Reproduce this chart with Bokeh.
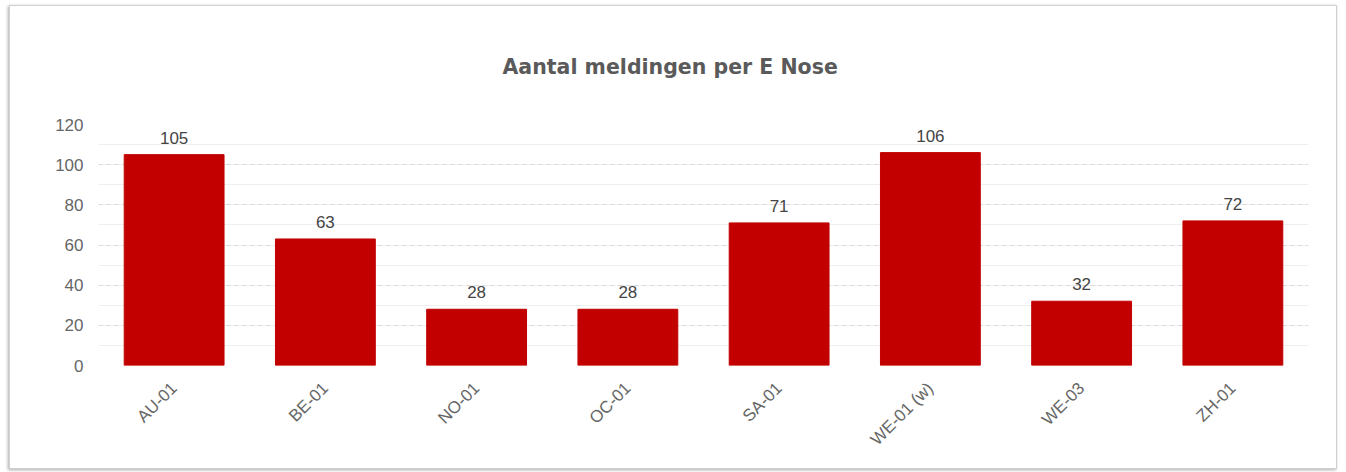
from bokeh.plotting import figure
from bokeh.models import ColumnDataSource, LabelSet, SingleIntervalTicker, Range1d, FactorRange
from bokeh.core.properties import value
from bokeh.embed import file_html
from bokeh.resources import INLINE
from math import pi

categories = ["AU-01", "BE-01", "NO-01", "OC-01", "SA-01", "WE-01 (w)", "WE-03", "ZH-01"]
values = [105, 63, 28, 28, 71, 106, 32, 72]
title_text = "Aantal meldingen per E Nose"

src = ColumnDataSource(dict(cat=categories, val=values, lbl=[str(v) for v in values]))

p = figure(x_range=FactorRange(*categories), y_range=Range1d(0, 120),
           width=1328, height=464, output_backend="svg", toolbar_location=None,
           min_border_left=88, min_border_right=30, min_border_top=117, min_border_bottom=105,
           styles={"margin": "5px 0 0 9px", "border": "1px solid #d0d0d0",
                   "box-shadow": "-1px 1px 3px #aaa"})
p.title.text = title_text
p.title.align = "left"
p.title.offset = 404
p.title.standoff = 92
p.title.text_font = "DejaVu Sans"
p.title.text_font_size = "20.5px"
p.title.text_font_style = "bold"
p.title.text_color = "#5a5a5a"

p.vbar(x="cat", top="val", width=0.66, source=src, color="#c20000")

labels = LabelSet(x="cat", y="val", text="lbl", source=src, text_align="center",
                  text_baseline="bottom", y_offset=11, text_font_size="17px",
                  text_color="#444444", text_font=value("Liberation Sans"))
p.add_layout(labels)

p.outline_line_color = None
p.xgrid.grid_line_color = None
p.yaxis.ticker = SingleIntervalTicker(interval=20, num_minor_ticks=2)
p.ygrid.grid_line_color = "#d8d8d8"
p.ygrid.grid_line_dash = "4 4"
p.ygrid.minor_grid_line_color = "#efefef"
p.ygrid.level = "underlay"

for ax in (p.xaxis, p.yaxis):
    ax.axis_line_color = None
    ax.major_tick_line_color = None
    ax.minor_tick_line_color = None
    ax.major_label_text_font = "Liberation Sans"
    ax.major_label_text_color = "#666666"
    ax.major_label_text_font_size = "17px"
p.xaxis.major_label_orientation = pi / 4
p.xaxis.major_label_standoff = 14
p.yaxis.major_label_standoff = 9

open("out.html", "w").write(file_html(p, INLINE))
